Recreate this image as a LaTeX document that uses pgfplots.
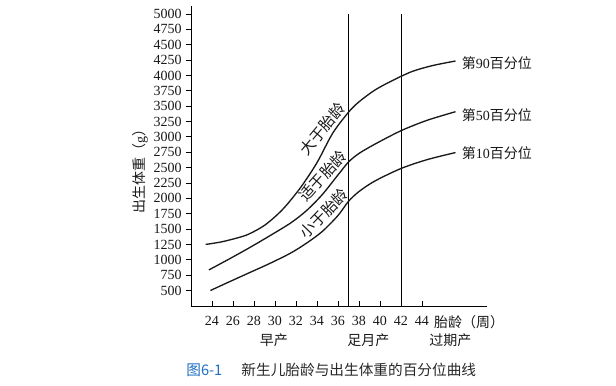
\documentclass[border=0pt]{standalone}
\usepackage{pgfplots}
\pgfplotsset{compat=1.18}
\usepackage{pgfplotstable}
\usepackage{fontspec}
\setmainfont{Liberation Serif}
\newfontfamily\cjk{Noto Sans CJK SC}
\definecolor{capblue}{RGB}{30,110,195}
\definecolor{captext}{RGB}{40,40,40}
\definecolor{ink}{RGB}{25,25,25}

\pgfplotstableread{
w g
23.4 1250
25 1295
27 1385
28 1460
29 1560
30 1700
31 1870
32.5 2190
34 2580
35.5 3060
37 3400
38 3570
39.5 3760
41 3900
43 4060
45 4160
47.2 4235
}\pninety

\pgfplotstableread{
w g
23.7 835
25.5 1000
27.5 1190
29.5 1390
31.5 1600
33 1800
34.5 2060
36 2380
37 2590
38 2730
39.5 2880
42 3100
44.5 3270
47.2 3410
}\pfifty

\pgfplotstableread{
w g
23.85 500
25.5 630
27.5 785
29.5 940
31.5 1110
33 1270
34.5 1460
36 1720
37 1950
38 2110
39.5 2280
42 2485
44.5 2630
47.2 2745
}\pten

\begin{document}
\begin{tikzpicture}
\path[use as bounding box] (-143.25pt,-59.25pt) rectangle (318.75pt,229.5pt);
\begin{axis}[
  at={(0,0)}, anchor=south west,
  scale only axis, width=222pt, height=225pt,
  xmin=22, xmax=50.2, ymin=248, ymax=5130,
  axis lines=left, axis line style={-, line width=0.6pt, black},
  xtick={24,26,...,44}, ytick={500,750,...,5000},
  xtick align=inside, ytick align=outside,
  major tick length=3.5pt,
  tick style={line width=0.6pt, black},
  xticklabel style={yshift=-4pt},
  tick label style={font=\fontsize{10.5}{12}\selectfont, text=ink},
  /pgf/number format/assume math mode=true,
  /pgf/number format/set thousands separator={},
  clip=false,
]
% vertical lines
\addplot[black, line width=0.6pt] coordinates {(37,248) (37,5000)};
\addplot[black, line width=0.6pt] coordinates {(42,248) (42,5000)};
% percentile curves
\addplot[ink, line width=1pt, smooth] table[x=w, y=g] {\pninety};
\addplot[ink, line width=1pt, smooth] table[x=w, y=g] {\pfifty};
\addplot[ink, line width=1pt, smooth] table[x=w, y=g] {\pten};

% curve end labels
\node[anchor=west, text=ink, font=\fontsize{10.5}{12}\selectfont] at (axis cs:47.35,4200) {{\cjk 第}90{\cjk 百分位}};
\node[anchor=west, text=ink, font=\fontsize{10.5}{12}\selectfont] at (axis cs:47.35,3360) {{\cjk 第}50{\cjk 百分位}};
\node[anchor=west, text=ink, font=\fontsize{10.5}{12}\selectfont] at (axis cs:47.35,2735) {{\cjk 第}10{\cjk 百分位}};

% rotated labels above curves
\node[rotate=50, anchor=south, inner sep=3pt, text=ink, font=\cjk\fontsize{11.5}{13}\selectfont] at (axis cs:35.35,3012) {大于胎龄};
\node[rotate=48, anchor=south, inner sep=3pt, text=ink, font=\cjk\fontsize{11.5}{13}\selectfont] at (axis cs:35.36,2243) {适于胎龄};
\node[rotate=46, anchor=south, inner sep=3pt, text=ink, font=\cjk\fontsize{11.5}{13}\selectfont] at (axis cs:35.45,1625) {小于胎龄};

% x axis label and categories
\node[text=ink, font=\cjk\fontsize{10.5}{12}\selectfont] at (axis cs:48.5,-12.5) {胎龄（周）};
\node[text=ink, font=\cjk\fontsize{10.5}{12}\selectfont] at (axis cs:29.9,-305) {早产};
\node[text=ink, font=\cjk\fontsize{10.5}{12}\selectfont] at (axis cs:38.9,-305) {足月产};
\node[text=ink, font=\cjk\fontsize{10.5}{12}\selectfont] at (axis cs:46.7,-305) {过期产};

% y axis label
\node[rotate=90, text=ink, font=\fontsize{10.5}{12}\selectfont] at (axis cs:17.17,2493) {{\cjk 出生体重（}g{\cjk ）}};

% caption
\node[font=\cjk\fontsize{11}{13}\selectfont] at (axis cs:35.36,-793) {\textcolor{capblue}{图6-1}\hspace{1.3em}\textcolor{captext}{新生儿胎龄与出生体重的百分位曲线}};
\end{axis}
\end{tikzpicture}
\end{document}
